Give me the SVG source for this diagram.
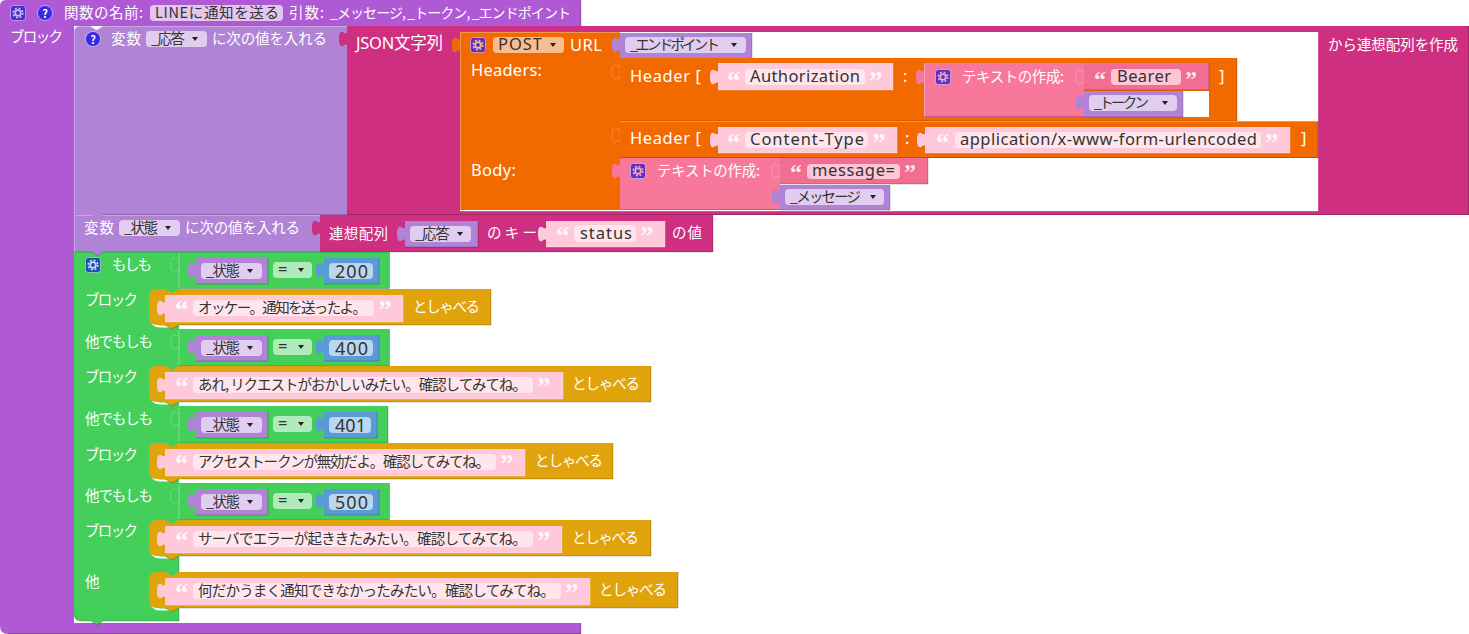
<svg xmlns="http://www.w3.org/2000/svg" width="1469" height="634" viewBox="0 0 1469 634">
<style>
text{font-family:"Noto Sans CJK JP","Noto Sans",sans-serif;font-size:14.500px;white-space:pre}
.en{font-family:"Noto Sans","Noto Sans CJK JP",sans-serif;font-size:16.500px}
.num{font-size:18px}
.w{fill:#fff}
.d{fill:#333}
.q{font-family:"Liberation Serif",serif;font-weight:700;font-size:27px;fill:#fff;fill-opacity:.85}
.qs{font-size:24px}
.dk{fill:none;stroke:#000;stroke-opacity:.22;stroke-width:1}
.hi{fill:none;stroke:#fff;stroke-opacity:.3;stroke-width:1}
.ol{stroke:#fff;stroke-opacity:.25;stroke-width:.8}
.wh{fill:none;stroke:#fff;stroke-width:2}
.outer{fill:#AF59D5}.var{fill:#B183D6}.pk{fill:#CF2F80}.or{fill:#F26900}.jn{fill:#F8789C}.jn2{fill:#F26D92}
.st{fill:#FFC9D9}.gr{fill:#44CF5A}.ye{fill:#E1A30B}.bl{fill:#5B9BD5}
.fv{fill:#E0CDF0}.fs{fill:#FFE6EC}.fs2{fill:#FFC6D6}.fp{fill:#F9BE90}.fo{fill:#B2EBBB}.fn{fill:#BBD7F0}
</style>
<defs>
<path id="tab" d="M0 1C-2 2-2 1-4 0C-7-1-8 2-8 7C-8 12-7 15-4 14C-2 13-2 12 0 13Z"/>
<polygon id="dd" points="-3,-2 3,-2 0,2" fill="#222"/>
<symbol id="gear" viewBox="0 0 16 16" width="16" height="16">
<rect x=".5" y=".5" width="15" height="15" rx="3" stroke="#fff" stroke-opacity=".45"/>
<circle cx="8" cy="8" r="2.800" fill="none" stroke="currentColor" stroke-width="1.800"/>
<circle cx="8" cy="8" r="4.800" fill="none" stroke="currentColor" stroke-width="1.600" stroke-dasharray="2 1.770"/>
</symbol>
<symbol id="help" viewBox="0 0 16 16" width="16" height="16">
<circle cx="8" cy="8" r="7.500" fill="#3B28E6" stroke="#fff" stroke-opacity=".5"/>
</symbol>
</defs>

<rect width="1469" height="634" fill="#fff"/>

<g id="function-block">
<path class="outer" d="M6 0H581V26H74V623H581V634H8Q0 634 0 626V6Q0 0 6 0Z"/>
<path class="dk" d="M581 .5V26M581 623V633.500H8"/>
<use href="#gear" x="10" y="5" fill="#4A2BD0" color="#C9BDF5"/>
<use href="#help" x="37" y="5"/><text class="w" x="45" y="18" text-anchor="middle" font-weight="700" style="font-size:11px">?</text>
<text class="w" x="64" y="18" textLength="79">関数の名前:</text>
<rect x="150" y="5" width="133" height="16" rx="4" fill="#E2C6EF"/>
<text class="d" x="155" y="18" textLength="124">LINEに通知を送る</text>
<text class="w" x="289" y="18" textLength="35">引数:</text>
<text class="w" x="330" y="18" textLength="241" style="font-size:14px">_メッセージ, _トークン, _エンドポイント</text>
<text class="w" x="10" y="42" textLength="53">ブロック</text>
</g>

<g id="if-block">
<path class="gr" d="M74 252H389.500V288.500H179V329H389.500V366H179V406H388V443H179V483H389.500V520H179V621H103L97 625L91 621H81Q74 621 74 614Z"/>
<path class="dk" d="M389.500 252.500V288.500H179M389.500 329.500V366H179M388 406.500V443H179M389.500 483.500V520H179M179 556V572M179 608V621H103L97 625L91 621H81Q75 621 74.500 614"/>
<path class="hi" d="M179 253V288M179 330V365M179 407V442M179 484V519"/>
<use href="#gear" x="85" y="257" fill="#1D4EB0" color="#BFE0FF"/>
<text class="w" x="112" y="270" textLength="40">もしも</text>
<text class="w" x="85" y="305" textLength="53">ブロック</text>
<text class="w" x="85" y="347" textLength="68">他でもしも</text>
<text class="w" x="85" y="382" textLength="53">ブロック</text>
<text class="w" x="85" y="424" textLength="68">他でもしも</text>
<text class="w" x="85" y="459.500" textLength="53">ブロック</text>
<text class="w" x="85" y="501" textLength="68">他でもしも</text>
<text class="w" x="85" y="536" textLength="53">ブロック</text>
<text class="w" x="85" y="587" textLength="14">他</text>
<use href="#tab" class="gr ol" x="179" y="258"/>
<use href="#tab" class="gr ol" x="179" y="335"/>
<use href="#tab" class="gr ol" x="179" y="412"/>
<use href="#tab" class="gr ol" x="179" y="489"/>
</g>

<g id="cond-200">
<use href="#tab" class="var" x="196" y="263"/><rect class="var" x="196" y="258" width="72" height="26"/><path class="dk" d="M268 258V284H196"/>
<rect class="fv" x="201" y="263" width="61" height="16" rx="4"/><text class="d" x="206" y="276" textLength="34">_状態</text><use href="#dd" x="250" y="271"/>
<rect class="fo" x="273" y="262" width="39" height="16" rx="4"/><text class="d en" x="278" y="275" textLength="15">=</text><use href="#dd" x="301" y="270"/>
<use href="#tab" class="bl" x="324" y="263"/><rect class="bl" x="324" y="258" width="55" height="26"/><path class="dk" d="M379 258V284H324"/>
<rect class="fn" x="329" y="263" width="44" height="16" rx="4"/><text class="d en num" x="335" y="277.500" textLength="33">200</text>
</g>
<g id="cond-400">
<use href="#tab" class="var" x="196" y="340"/><rect class="var" x="196" y="335" width="72" height="26"/><path class="dk" d="M268 335V361H196"/>
<rect class="fv" x="201" y="340" width="61" height="16" rx="4"/><text class="d" x="206" y="353" textLength="34">_状態</text><use href="#dd" x="250" y="348"/>
<rect class="fo" x="273" y="339" width="39" height="16" rx="4"/><text class="d en" x="278" y="352" textLength="15">=</text><use href="#dd" x="301" y="347"/>
<use href="#tab" class="bl" x="324" y="340"/><rect class="bl" x="324" y="335" width="55" height="26"/><path class="dk" d="M379 335V361H324"/>
<rect class="fn" x="329" y="340" width="44" height="16" rx="4"/><text class="d en num" x="335" y="354.500" textLength="33">400</text>
</g>
<g id="cond-401">
<use href="#tab" class="var" x="196" y="417"/><rect class="var" x="196" y="412" width="72" height="26"/><path class="dk" d="M268 412V438H196"/>
<rect class="fv" x="201" y="417" width="61" height="16" rx="4"/><text class="d" x="206" y="430" textLength="34">_状態</text><use href="#dd" x="250" y="425"/>
<rect class="fo" x="273" y="416" width="39" height="16" rx="4"/><text class="d en" x="278" y="429" textLength="15">=</text><use href="#dd" x="301" y="424"/>
<use href="#tab" class="bl" x="324" y="417"/><rect class="bl" x="324" y="412" width="53" height="26"/><path class="dk" d="M377 412V438H324"/>
<rect class="fn" x="329" y="417" width="42" height="16" rx="4"/><text class="d en num" x="335" y="431.500" textLength="31">401</text>
</g>
<g id="cond-500">
<use href="#tab" class="var" x="196" y="494"/><rect class="var" x="196" y="489" width="72" height="26"/><path class="dk" d="M268 489V515H196"/>
<rect class="fv" x="201" y="494" width="61" height="16" rx="4"/><text class="d" x="206" y="507" textLength="34">_状態</text><use href="#dd" x="250" y="502"/>
<rect class="fo" x="273" y="493" width="39" height="16" rx="4"/><text class="d en" x="278" y="506" textLength="15">=</text><use href="#dd" x="301" y="501"/>
<use href="#tab" class="bl" x="324" y="494"/><rect class="bl" x="324" y="489" width="55" height="26"/><path class="dk" d="M379 489V515H324"/>
<rect class="fn" x="329" y="494" width="44" height="16" rx="4"/><text class="d en num" x="335" y="508.500" textLength="33">500</text>
</g>

<g id="say-200">
<path class="wh" d="M151 319Q152 326 160 326.500H170"/>
<path class="ye" d="M157 289H165L172 293L179 289H491V325H179L172 329L165 325H157Q149 325 149 317V297Q149 289 157 289Z"/>
<path class="dk" d="M491 289V325H179L172 329L165 325"/>
<rect class="st" x="165" y="295" width="238" height="27"/><path class="hi" d="M403 295V322H165"/>
<use href="#tab" class="st" x="165" y="301"/>
<text class="q" x="175" y="319">“</text>
<rect class="fs" x="193" y="300" width="181" height="16" rx="4"/>
<text class="d" x="198" y="313" textLength="169">オッケー。通知を送ったよ。</text>
<text class="q" x="378" y="319">”</text>
<text class="w" x="413" y="311.500" textLength="67">としゃべる</text>
</g>
<g id="say-400">
<path class="wh" d="M151 396Q152 403 160 403.500H170"/>
<path class="ye" d="M157 366H165L172 370L179 366H651V402H179L172 406L165 402H157Q149 402 149 394V374Q149 366 157 366Z"/>
<path class="dk" d="M651 366V402H179L172 406L165 402"/>
<rect class="st" x="165" y="372" width="398" height="27"/><path class="hi" d="M563 372V399H165"/>
<use href="#tab" class="st" x="165" y="378"/>
<text class="q" x="175" y="396">“</text>
<rect class="fs" x="193" y="377" width="340" height="16" rx="4"/>
<text class="d" x="198" y="390" textLength="329">あれ, リクエストがおかしいみたい。確認してみてね。</text>
<text class="q" x="537" y="396">”</text>
<text class="w" x="572" y="388.500" textLength="68">としゃべる</text>
</g>
<g id="say-401">
<path class="wh" d="M151 473Q152 480 160 480.500H170"/>
<path class="ye" d="M157 443H165L172 447L179 443H613V479H179L172 483L165 479H157Q149 479 149 471V451Q149 443 157 443Z"/>
<path class="dk" d="M613 443V479H179L172 483L165 479"/>
<rect class="st" x="165" y="449" width="360" height="27"/><path class="hi" d="M525 449V476H165"/>
<use href="#tab" class="st" x="165" y="455"/>
<text class="q" x="175" y="473">“</text>
<rect class="fs" x="193" y="454" width="303" height="16" rx="4"/>
<text class="d" x="198" y="467" textLength="292">アクセストークンが無効だよ。確認してみてね。</text>
<text class="q" x="500" y="473">”</text>
<text class="w" x="535" y="465.500" textLength="68">としゃべる</text>
</g>
<g id="say-500">
<path class="wh" d="M151 550Q152 557 160 557.500H170"/>
<path class="ye" d="M157 520H165L172 524L179 520H651V556H179L172 560L165 556H157Q149 556 149 548V528Q149 520 157 520Z"/>
<path class="dk" d="M651 520V556H179L172 560L165 556"/>
<rect class="st" x="165" y="526" width="397" height="27"/><path class="hi" d="M562 526V553H165"/>
<use href="#tab" class="st" x="165" y="532"/>
<text class="q" x="175" y="550">“</text>
<rect class="fs" x="193" y="531" width="340" height="16" rx="4"/>
<text class="d" x="198" y="544" textLength="329">サーバでエラーが起ききたみたい。確認してみてね。</text>
<text class="q" x="537" y="550">”</text>
<text class="w" x="572" y="542.500" textLength="67">としゃべる</text>
</g>
<g id="say-else">
<path class="wh" d="M151 602Q152 609 160 609.500H170"/>
<path class="ye" d="M157 572H165L172 576L179 572H678V608H179L172 612L165 608H157Q149 608 149 600V580Q149 572 157 572Z"/>
<path class="dk" d="M678 572V608H179L172 612L165 608"/>
<rect class="st" x="165" y="578" width="425" height="27"/><path class="hi" d="M590 578V605H165"/>
<use href="#tab" class="st" x="165" y="584"/>
<text class="q" x="175" y="602">“</text>
<rect class="fs" x="193" y="583" width="368" height="16" rx="4"/>
<text class="d" x="198" y="596" textLength="357">何だかうまく通知できなかったみたい。確認してみてね。</text>
<text class="q" x="565" y="602">”</text>
<text class="w" x="599" y="594.500" textLength="68">としゃべる</text>
</g>

<g id="set-status">
<path class="var" d="M74 215H320V252H103L97.500 256L92 252H74Z"/>
<path class="dk" d="M320 252H103L97.500 256L92 252H74.500"/>
<path class="hi" d="M74.500 252V215.500H320"/>
<text class="w" x="84" y="233" textLength="30">変数</text>
<rect class="fv" x="119" y="220" width="61" height="16" rx="4"/>
<text class="d" x="124" y="233" textLength="34">_状態</text><use href="#dd" x="168" y="228"/>
<text class="w" x="185" y="233" textLength="115">に次の値を入れる</text>
</g>
<g id="dict-lookup">
<use href="#tab" class="pk" x="320" y="221"/>
<rect class="pk" x="320" y="215" width="393" height="37"/><path class="dk" d="M713 215V252H320"/>
<text class="w" x="329" y="239" textLength="59">連想配列</text>
<use href="#tab" class="var" x="405" y="227"/><rect class="var" x="405" y="221" width="73" height="26"/><path class="dk" d="M478 221V247H405"/>
<rect class="fv" x="410" y="226" width="61" height="16" rx="4"/><text class="d" x="415" y="239" textLength="35">_応答</text><use href="#dd" x="460" y="234"/>
<text class="w" x="487" y="238" textLength="50">のキー</text>
<use href="#tab" class="st" x="546" y="227"/><rect class="st" x="546" y="221" width="119" height="26"/><path class="hi" d="M665 221V247H546"/>
<text class="q" x="556" y="245">“</text>
<rect class="fs" x="574" y="225" width="62" height="17" rx="4"/>
<text class="d en" x="580" y="239" textLength="52">status</text>
<text class="q" x="640" y="245">”</text>
<text class="w" x="672" y="238" textLength="30">の値</text>
</g>

<g id="set-response">
<path class="var" d="M80 26H90L96.500 30L103 26H347V215H103L97.500 219L92 215H74V32Q74 26 80 26Z"/>
<path class="dk" d="M103 214.500H346.500"/>
<path class="hi" d="M74.500 214V32Q74.500 26.500 80 26.500H90L96.500 30.500L103 26.500H347"/>
<use href="#help" x="85" y="31"/><text class="w" x="93" y="44" text-anchor="middle" font-weight="700" style="font-size:11px">?</text>
<text class="w" x="111" y="44" textLength="30">変数</text>
<rect class="fv" x="146" y="31" width="61" height="16" rx="4"/>
<text class="d" x="151" y="44" textLength="34">_応答</text><use href="#dd" x="195" y="39"/>
<text class="w" x="212" y="44" textLength="115">に次の値を入れる</text>
</g>

<g id="make-dict">
<use href="#tab" class="pk" x="347" y="32"/>
<path class="pk" fill-rule="evenodd" d="M347 26H1469V215H347ZM460 32V211H1318V32Z"/>
<path class="dk" d="M1468.500 26V214.500H347"/>
<path class="hi" d="M1318 33V211H460"/>
<text class="w en" x="356" y="49" textLength="87">JSON文字列</text>
<text class="w" x="1328" y="50" textLength="130">から連想配列を作成</text>
</g>

<g id="http-post">
<use href="#tab" class="or" x="460" y="38"/>
<rect class="or" x="460" y="32" width="160" height="178"/>
<path class="hi" d="M460.500 210V32.500H620"/>
<use href="#gear" x="470" y="37" fill="#5B2EC8" color="#F9BE90"/>
<rect class="fp" x="493" y="37" width="71" height="16" rx="4"/>
<text class="d en" x="498" y="50" textLength="44">POST</text><use href="#dd" x="553" y="45"/>
<text class="w en" x="570" y="51" textLength="32">URL</text>
<text class="w en" x="471" y="76" textLength="71">Headers:</text>
<text class="w en" x="471" y="176" textLength="45">Body:</text>
</g>
<g id="url-var">
<use href="#tab" class="var" x="620" y="38"/><rect class="var" x="620" y="33" width="132" height="25"/><path class="dk" d="M752 33V58"/>
<rect class="fv" x="625" y="37" width="121" height="16" rx="4"/>
<text class="d" x="630" y="50" textLength="90">_エンドポイント</text><use href="#dd" x="734" y="45"/>
</g>

<g id="header-auth">
<use href="#tab" class="or ol" x="620" y="65"/>
<path class="or" fill-rule="evenodd" d="M620 58H1237V121H620ZM1183 91V117H1209V91Z"/>
<path class="dk" d="M1237 58V121H620"/>
<text class="w en" x="630" y="82" textLength="71">Header [</text>
<use href="#tab" class="st" x="718" y="70"/><rect class="st" x="718" y="63" width="175" height="27"/><path class="hi" d="M893 63V90H718"/>
<text class="q" x="727" y="90">“</text>
<rect class="fs" x="745" y="69" width="120" height="16" rx="4"/>
<text class="d en" x="750" y="82" textLength="110">Authorization</text>
<text class="q" x="869" y="90">”</text>
<text class="w en" x="903" y="82">:</text>
<text class="w en" x="1219" y="82">]</text>
</g>
<g id="join-auth">
<use href="#tab" class="jn" x="924" y="70"/>
<rect class="jn" x="924" y="63" width="160" height="54"/><path class="hi" d="M924.500 117V63.500"/><path class="dk" d="M924 116.500H1084"/>
<use href="#gear" x="935" y="69" fill="#5B2EC8" color="#F8A8C0"/>
<text class="w" x="962" y="82" textLength="102">テキストの作成:</text>
</g>
<g id="str-bearer">
<use href="#tab" class="jn ol" x="1084" y="70"/>
<rect class="jn2" x="1084" y="63" width="125" height="27"/><path class="dk" d="M1209 63V90H1084"/>
<text class="q qs" x="1094" y="87">“</text>
<rect class="fs2" x="1111" y="69" width="70" height="16" rx="4"/>
<text class="d en" x="1117" y="82" textLength="54">Bearer</text>
<text class="q qs" x="1185" y="87">”</text>
</g>
<g id="var-token">
<use href="#tab" class="var" x="1084" y="96"/><rect class="var" x="1084" y="91" width="99" height="26"/><path class="dk" d="M1183 91V117H1084"/>
<rect class="fv" x="1089" y="95" width="88" height="16" rx="4"/>
<text class="d" x="1094" y="108" textLength="55">_トークン</text><use href="#dd" x="1165" y="103"/>
</g>

<g id="header-type">
<use href="#tab" class="or ol" x="620" y="128"/>
<rect class="or" x="620" y="121" width="698" height="37"/><path class="dk" d="M1318 121V157.500H620"/><path class="hi" d="M620 121.500H1318"/>
<text class="w en" x="630" y="144" textLength="71">Header [</text>
<use href="#tab" class="st" x="718" y="133"/><rect class="st" x="718" y="127" width="179" height="26"/><path class="hi" d="M897 127V153H718"/>
<text class="q" x="727" y="152">“</text>
<rect class="fs" x="745" y="132" width="123" height="16" rx="4"/>
<text class="d en" x="750" y="145" textLength="114">Content-Type</text>
<text class="q" x="872" y="152">”</text>
<text class="w en" x="905" y="144">:</text>
<use href="#tab" class="st" x="925" y="133"/><rect class="st" x="925" y="127" width="365" height="26"/><path class="hi" d="M1290 127V153H925"/>
<text class="q" x="936" y="152">“</text>
<rect class="fs" x="955" y="132" width="306" height="16" rx="4"/>
<text class="d en" x="960" y="145" textLength="297">application/x-www-form-urlencoded</text>
<text class="q" x="1265" y="152">”</text>
<text class="w en" x="1301" y="144">]</text>
</g>

<g id="join-body">
<use href="#tab" class="jn" x="620" y="164"/>
<rect class="jn" x="620" y="158" width="160" height="52"/><path class="dk" d="M620 209.500H780"/>
<use href="#gear" x="630" y="163" fill="#5B2EC8" color="#F8A8C0"/>
<text class="w" x="657" y="176" textLength="103">テキストの作成:</text>
</g>
<g id="str-message">
<use href="#tab" class="jn ol" x="780" y="164"/>
<rect class="jn2" x="780" y="158" width="148" height="26"/><path class="dk" d="M928 158V184H780"/>
<text class="q qs" x="790" y="180">“</text>
<rect class="fs2" x="807" y="164" width="93" height="15" rx="4"/>
<text class="d en" x="812" y="176" textLength="83">message=</text>
<text class="q qs" x="904" y="180">”</text>
</g>
<g id="var-message">
<use href="#tab" class="var" x="780" y="190"/><rect class="var" x="780" y="185" width="110" height="25"/><path class="dk" d="M890 185V210H780"/>
<rect class="fv" x="785" y="189" width="99" height="16" rx="4"/>
<text class="d" x="790" y="202" textLength="71">_メッセージ</text><use href="#dd" x="873" y="197"/>
</g>
</svg>
